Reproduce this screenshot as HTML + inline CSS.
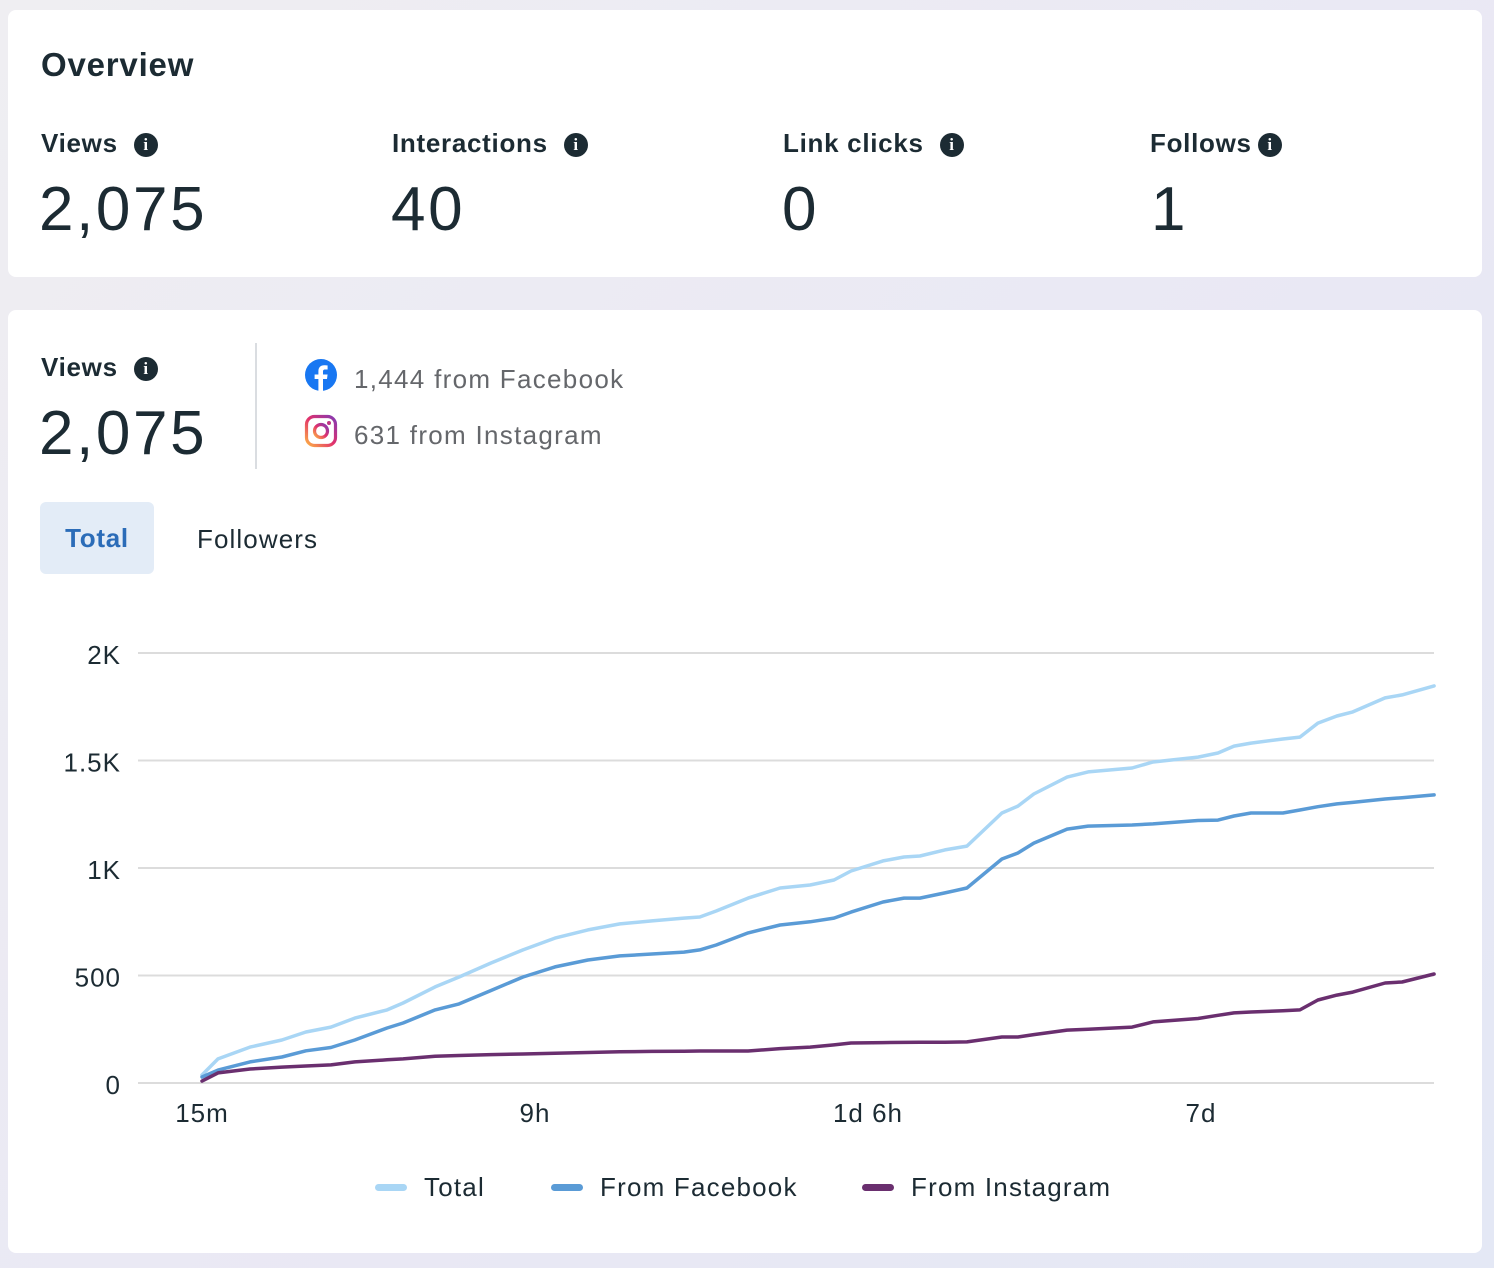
<!DOCTYPE html>
<html><head><meta charset="utf-8"><style>
body{margin:0;width:1494px;height:1268px;background:linear-gradient(135deg,#efeef2,#e9e8f4 60%,#e4e8f5);font-family:"Liberation Sans",sans-serif;color:#1c2b33;position:relative;overflow:hidden}
.card{position:absolute;left:8px;width:1474px;background:#fff;border-radius:8px}
.abs{position:absolute;white-space:nowrap}
.lbl{font-size:26px;font-weight:bold;letter-spacing:0.7px}
.big{font-size:62px;letter-spacing:2.6px}
.info{display:inline-block;width:24px;height:24px;border-radius:50%;background:#1c2b33;color:#fff;font-size:17px;font-weight:bold;text-align:center;line-height:24px;font-family:"Liberation Serif",serif;vertical-align:2px;margin-left:16px;letter-spacing:0}
.src{font-size:26px;color:#65676b;letter-spacing:1.3px}
</style></head><body>
<div class="card" style="top:10px;height:267px">
  <div class="abs" style="left:33px;top:36px;font-size:33px;font-weight:bold;letter-spacing:0.8px">Overview</div>
  <div class="abs lbl" style="left:33px;top:118px">Views<span class="info">i</span></div>
  <div class="abs big" style="left:31px;top:164px">2,075</div>
  <div class="abs lbl" style="left:384px;top:118px">Interactions<span class="info">i</span></div>
  <div class="abs big" style="left:383px;top:164px">40</div>
  <div class="abs lbl" style="left:775px;top:118px">Link clicks<span class="info">i</span></div>
  <div class="abs big" style="left:774px;top:164px">0</div>
  <div class="abs lbl" style="left:1142px;top:118px">Follows<span class="info" style="margin-left:6px">i</span></div>
  <div class="abs big" style="left:1143px;top:164px">1</div>
</div>
<div class="card" style="top:310px;height:943px">
  <div class="abs lbl" style="left:33px;top:42px">Views<span class="info">i</span></div>
  <div class="abs big" style="left:31px;top:88px">2,075</div>
  <div class="abs" style="left:247px;top:33px;width:2px;height:126px;background:#dadde1"></div>
  <svg class="abs" style="left:296px;top:48px" width="34" height="34"><circle cx="17" cy="17" r="16" fill="#1877f2"/><path d="M19 33V21h4l.6-4.5H19v-2.8c0-1.3.4-2.2 2.2-2.2h2.4V7.5c-.4-.1-1.8-.2-3.5-.2-3.4 0-5.700 2.1-5.700 5.9v3.3h-3.8V21h3.8v12z" fill="#fff"/></svg>
  <div class="abs src" style="left:346px;top:54px">1,444 from Facebook</div>
  <svg class="abs" style="left:296px;top:104px" width="34" height="34"><defs><linearGradient id="ig" x1="0" y1="1" x2="1" y2="0"><stop offset="0" stop-color="#fdb045"/><stop offset=".5" stop-color="#e1306c"/><stop offset="1" stop-color="#833ab4"/></linearGradient></defs><rect x="2.5" y="2.5" width="29" height="29" rx="8" fill="none" stroke="url(#ig)" stroke-width="3.2"/><circle cx="17" cy="17" r="6.5" fill="none" stroke="url(#ig)" stroke-width="3.2"/><circle cx="25" cy="9" r="2" fill="#c13584"/></svg>
  <div class="abs src" style="left:346px;top:110px">631 from Instagram</div>
  <div class="abs" style="left:32px;top:192px;width:114px;height:72px;background:#e3ecf7;border-radius:6px;color:#2b6cb8;font-size:26px;font-weight:bold;text-align:center;line-height:72px;letter-spacing:0.7px">Total</div>
  <div class="abs" style="left:189px;top:193px;height:72px;line-height:72px;font-size:26px;letter-spacing:1.1px">Followers</div>
</div>
<svg id="chart" class="abs" style="left:0;top:0" width="1494" height="1268"></svg>
<script>
const yTicks=[0,500,1000,1500,2000];
const yTickLabels=["0","500","1K","1.5K","2K"];
const xTickPos=[0,1,2,3];
const xTickLabels=["15m","9h","1d 6h","7d"];
const xs=[0,.048,.144,.240,.312,.387,.459,.556,.604,.700,.772,.868,.964,1.060,1.159,1.255,1.351,1.447,1.495,1.544,1.640,1.736,1.826,1.898,1.949,2.045,2.108,2.156,2.231,2.297,2.402,2.450,2.498,2.598,2.661,2.793,2.856,2.991,3.051,3.099,3.150,3.246,3.297,3.351,3.408,3.456,3.553,3.604,3.700];
const totalVals=[37,112,167,200,237,260,302,340,372,447,493,558,619,674,712,740,754,767,772,800,860,907,921,944,986,1033,1051,1056,1084,1102,1256,1288,1344,1423,1447,1465,1493,1516,1535,1567,1581,1600,1609,1674,1707,1726,1791,1805,1847];
const facebookVals=[28,60,98,121,150,165,200,256,279,340,368,430,493,540,572,591,600,609,619,642,698,735,750,767,795,842,860,860,884,907,1042,1070,1116,1181,1195,1200,1205,1221,1223,1242,1256,1256,1270,1285,1298,1305,1321,1327,1340];
const instagramVals=[9,47,65,74,79,84,98,108,112,124,128,132,135,138,142,145,147,148,149,149,149,160,167,177,186,188,189,190,190,191,214,214,225,246,250,260,284,300,315,326,330,336,340,386,409,423,465,470,507];
const seriesNames=["Total","From Facebook","From Instagram"];
const seriesColors=["#a9d6f5","#5a9bd6","#6a2f6f"];
const NS="http://www.w3.org/2000/svg";
const svg=document.getElementById("chart");
const X=t=>202+t*333, Y=v=>1083-v*0.215;
function mk(tag,attrs){const e=document.createElementNS(NS,tag);for(const k in attrs)e.setAttribute(k,attrs[k]);svg.appendChild(e);return e;}
yTicks.forEach((v,i)=>{
  const g=mk("line",{x1:138,x2:1434,y1:Y(v),y2:Y(v),stroke:"#dcdcdc","stroke-width":2});
  
  
  const t=mk("text",{x:121,y:Y(v)+11,"text-anchor":"end","font-size":26,fill:"#1c2b33","font-family":"Liberation Sans, sans-serif","letter-spacing":"1"});
  t.textContent=yTickLabels[i];
  
  
});
xTickPos.forEach((p,i)=>{
  const t=mk("text",{x:X(p),y:1122,"text-anchor":"middle","font-size":26,fill:"#1c2b33","font-family":"Liberation Sans, sans-serif","letter-spacing":"1"});
  t.textContent=xTickLabels[i];
  
  
});
[totalVals,facebookVals,instagramVals].forEach((vals,si)=>{
  const d=vals.map((v,i)=>(i?"L":"M")+X(xs[i]).toFixed(1)+" "+Y(v).toFixed(1)).join(" ");
  const p=mk("path",{d:d,fill:"none",stroke:seriesColors[si],"stroke-width":3.5,"stroke-linejoin":"round","stroke-linecap":"round"});
  
  
});
const legX=[375,551,862];
seriesNames.forEach((n,i)=>{
  const r=mk("rect",{x:legX[i],y:1184,width:32,height:7,rx:3.5,fill:seriesColors[i]});
  
  
  const t=mk("text",{x:legX[i]+49,y:1196,"font-size":26,fill:"#1c2b33","font-family":"Liberation Sans, sans-serif","letter-spacing":"1.2"});
  t.textContent=n;
  
  
});
</script>
</body></html>
